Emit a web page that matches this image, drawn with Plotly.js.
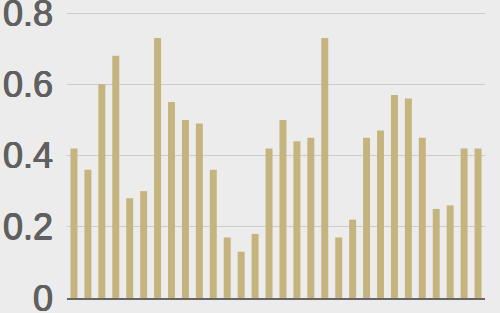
<!DOCTYPE html>
<html>
<head>
<meta charset="utf-8">
<script src="https://cdn.plot.ly/plotly-3.0.1.min.js"></script>
<style>html,body{margin:0;padding:0;background:#ececec;}#chart{width:500px;height:313px;}</style>
</head>
<body>
<div id="chart"></div>
<script>
var categories = [1,2,3,4,5,6,7,8,9,10,11,12,13,14,15,16,17,18,19,20,21,22,23,24,25,26,27,28,29,30];
var values = [0.42,0.36,0.60,0.68,0.28,0.30,0.73,0.55,0.50,0.49,0.36,0.17,0.13,0.18,0.42,0.50,0.44,0.45,0.73,0.17,0.22,0.45,0.47,0.57,0.56,0.45,0.25,0.26,0.42,0.42];
var yTicks = [0,0.2,0.4,0.6,0.8];
var yTickText = ['0','0.2','0.4','0.6','0.8'];

Plotly.newPlot('chart', [{
  type: 'bar',
  x: categories,
  y: values,
  marker: {color: '#c6b47f'},
  hoverinfo: 'none'
}], {
  width: 500, height: 313,
  margin: {l: 67, r: 15, t: 12, b: 15},
  paper_bgcolor: '#ececec',
  plot_bgcolor: '#ececec',
  bargap: 0.5,
  showlegend: false,
  xaxis: {
    range: [0.5, 30.5],
    showgrid: false, zeroline: false, showticklabels: false, ticks: '',
    showline: true, linecolor: '#666666', linewidth: 2
  },
  yaxis: {
    range: [0, 0.803],
    tickvals: yTicks, ticktext: yTickText,
    showgrid: true, gridcolor: '#cccccc', gridwidth: 1,
    zeroline: false, showline: false, ticks: '',
    ticklabelstandoff: 13,
    ticklabeloverflow: 'allow',
    tickfont: {family: 'Liberation Sans, Arial, sans-serif', size: 36, color: '#606060',
               shadow: '0.45px 0 0 #606060, -0.45px 0 0 #606060, 0 0.3px 0 #606060'}
  }
}, {staticPlot: true, displayModeBar: false});
</script>
</body>
</html>
